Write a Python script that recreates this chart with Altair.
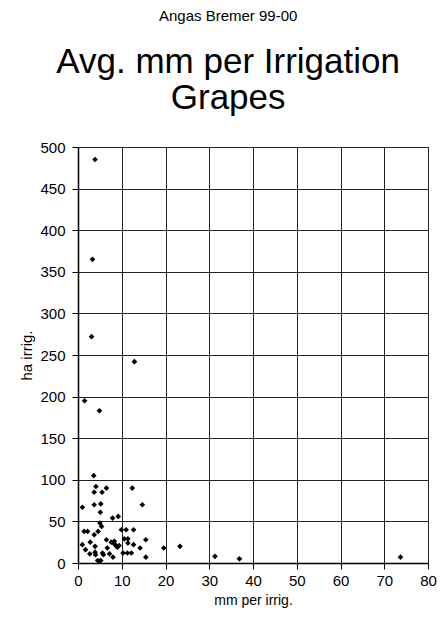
import altair as alt
import pandas as pd

mm_per_irrig = [3.9, 3.3, 3.1, 12.9, 1.5, 4.9, 3.6, 4.1, 6.5, 3.7, 5.5, 12.4, 1.0, 3.7, 5.2, 14.7,
                5.1, 7.9, 9.2, 5.0, 5.4, 4.6, 1.4, 2.2, 3.7, 9.9, 11.0, 12.7, 1.0, 2.8, 6.5, 7.6,
                8.1, 8.5, 8.8, 10.6, 11.4, 11.4, 12.7, 15.5, 14.2, 19.6, 23.3, 1.7, 2.7, 3.9, 3.9,
                4.0, 5.6, 5.8, 6.7, 7.2, 8.0, 9.0, 10.3, 11.3, 12.2, 15.5, 31.3, 36.9, 73.7, 4.5,
                4.9, 5.2, 8.3, 9.4]
ha_irrig = [485, 365, 272, 242, 195, 183, 105, 92, 90, 85, 85, 90, 67, 70, 71, 70,
            61, 54, 56, 48, 44, 38, 38, 38, 34, 40, 40, 40, 22, 25, 28, 25,
            24, 22, 20, 29, 29, 24, 22, 28, 18, 18, 20, 16, 11, 20, 13,
            10, 12, 10, 18, 11, 7, 19, 12, 12, 12, 7, 8, 5, 7, 3,
            2, 3, 26, 21]

x_ticks = [0, 10, 20, 30, 40, 50, 60, 70, 80]
y_ticks = [0, 50, 100, 150, 200, 250, 300, 350, 400, 450, 500]

df = pd.DataFrame({"mm": mm_per_irrig, "ha": ha_irrig})

FONT = "Liberation Sans"

chart = alt.Chart(df).mark_point(
    shape="diamond", filled=True, color="black", size=32, opacity=1
).encode(
    x=alt.X("mm:Q", scale=alt.Scale(domain=[0, 80], nice=False),
            axis=alt.Axis(values=x_ticks, title="mm per irrig.", grid=True,
                          labelFontSize=15, titleFontSize=14, titleFontWeight="normal",
                          labelPadding=4, titlePadding=5, tickSize=6, labelFlush=False)),
    y=alt.Y("ha:Q", scale=alt.Scale(domain=[0, 500], nice=False),
            axis=alt.Axis(values=y_ticks, title="ha irrig.", grid=True,
                          labelFontSize=15, titleFontSize=15, titleFontWeight="normal",
                          labelPadding=7, titlePadding=5, tickSize=6, labelFlush=False)),
).properties(
    width=350,
    height=416,
    background="white",
    autosize=alt.AutoSizeParams(type="none"),
    padding={"left": 70, "top": 139, "right": 9, "bottom": 47},
    title=alt.TitleParams(
        text="Angas Bremer 99-00",
        subtitle=["Avg. mm per Irrigation", "Grapes"],
        fontSize=15, fontWeight="normal", color="black", font=FONT,
        subtitleFontSize=35, subtitleColor="black", subtitleFont=FONT,
        subtitlePadding=21, subtitleLineHeight=36,
        anchor="middle", frame="bounds", offset=24,
    ),
).configure_axis(
    labelFont=FONT, titleFont=FONT, labelColor="black", titleColor="black",
    domainColor="black", tickColor="black", gridColor="#222", gridOpacity=1,
    gridWidth=1, domainWidth=1.5,
).configure_view(
    stroke="#222", strokeWidth=1
)

chart.save("out.html", embed_options={"renderer": "svg", "actions": False})
